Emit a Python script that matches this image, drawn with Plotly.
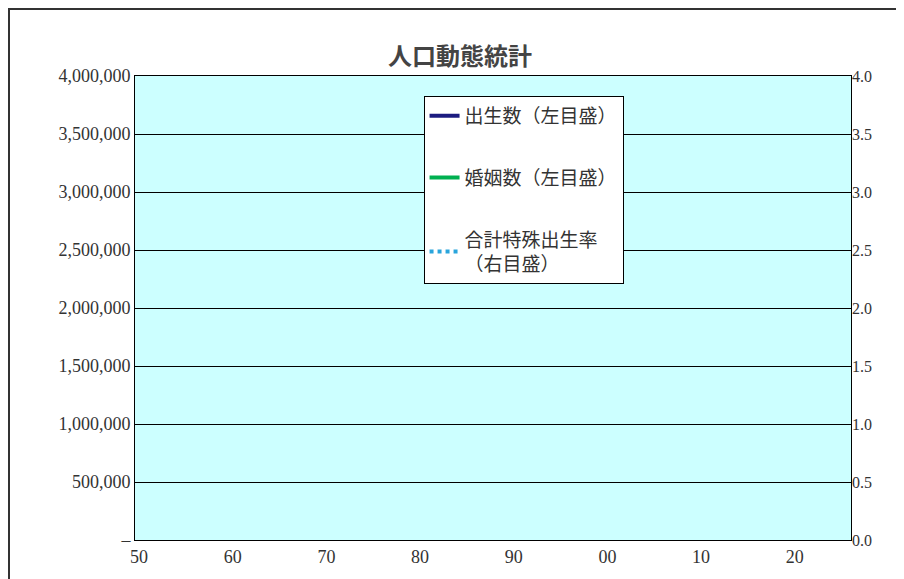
import plotly.graph_objects as go

# data (x position = calendar year + 3, as in the reference's labelling)
birth_years = list(range(1947, 2024))
births = [2679, 2682, 2697, 2338, 2138, 2005, 1868, 1770, 1731, 1665,
          1567, 1653, 1626, 1606, 1589, 1619, 1660, 1717, 1824, 1361,
          1936, 1872, 1890, 1934, 2001, 2039, 2092, 2030, 1901, 1833,
          1755, 1709, 1643, 1577, 1529, 1515, 1509, 1490, 1432, 1383,
          1347, 1314, 1247, 1222, 1223, 1209, 1188, 1238, 1187, 1207,
          1192, 1203, 1178, 1191, 1171, 1154, 1124, 1111, 1063, 1093,
          1090, 1091, 1070, 1071, 1051, 1037, 1030, 1004, 1006, 977,
          946, 918, 865, 841, 812, 771, 755]
marriages = [934, 954, 843, 715, 672, 677, 682, 698, 715, 716,
             774, 827, 848, 866, 891, 929, 938, 964, 955, 940,
             954, 957, 985, 1029, 1092, 1100, 1072, 1000, 942, 872,
             821, 794, 788, 775, 777, 781, 763, 740, 736, 711,
             696, 708, 708, 722, 742, 754, 793, 782, 792, 795,
             776, 785, 762, 798, 800, 757, 740, 720, 714, 731,
             720, 726, 708, 700, 662, 669, 661, 643, 635, 621,
             607, 586, 599, 526, 501, 519, 490]
tfr_years = list(range(1950, 2023))
tfr = [3.65, 3.26, 2.98, 2.69, 2.48, 2.37, 2.22, 2.04, 2.11, 2.04,
       2.00, 1.96, 1.98, 2.00, 2.05, 2.14, 1.58, 2.23, 2.13, 2.13,
       2.13, 2.16, 2.14, 2.14, 2.05, 1.91, 1.85, 1.80, 1.79, 1.77,
       1.75, 1.74, 1.77, 1.80, 1.81, 1.76, 1.72, 1.69, 1.66, 1.57,
       1.54, 1.53, 1.50, 1.46, 1.50, 1.42, 1.43, 1.39, 1.38, 1.34,
       1.36, 1.33, 1.32, 1.29, 1.29, 1.26, 1.32, 1.34, 1.37, 1.37,
       1.39, 1.39, 1.41, 1.43, 1.42, 1.45, 1.44, 1.43, 1.42, 1.36,
       1.33, 1.30, 1.26]
x_ticks = [50, 60, 70, 80, 90, 100, 110, 120]
x_labels = ["50", "60", "70", "80", "90", "00", "10", "20"]
y_ticks = [0, 500000, 1000000, 1500000, 2000000, 2500000, 3000000, 3500000, 4000000]
y_labels = ["–"] + [f"{v:,}" for v in y_ticks[1:]]

bx = [float(y + 3) for y in birth_years]
tx = [float(y + 3) for y in tfr_years]

fig = go.Figure()
fig.add_trace(go.Scatter(x=bx, y=[float(v * 1000) for v in births], mode="lines",
                         name="出生数（左目盛）", legendgroup="a",
                         xaxis="x", yaxis="y",
                         line=dict(color="#1C1C80", width=4)))
fig.add_trace(go.Scatter(x=bx, y=[float(v * 1000) for v in marriages], mode="lines",
                         name="婚姻数（左目盛）", legendgroup="b",
                         xaxis="x", yaxis="y",
                         line=dict(color="#00B050", width=4)))
fig.add_trace(go.Scatter(x=tx, y=tfr, mode="lines", xaxis="x", yaxis="y2",
                         name="合計特殊出生率<br>（右目盛）", legendgroup="c",
                         line=dict(color="#2AA5DC", width=4, dash="dot")))

tickfont = dict(family="Liberation Serif", size=18, color="#333333")
fig.update_layout(
    width=904, height=579,
    margin=dict(l=127, r=61, t=68, b=47, autoexpand=False),
    paper_bgcolor="white", plot_bgcolor="#CCFFFF",
    title=dict(text="<b>人口動態統計</b>", x=0.5, y=0.93, xanchor="center",
               font=dict(family="Noto Sans CJK JP", size=24, color="#444444")),
    font=dict(family="Noto Sans CJK JP", color="#333333"),
    xaxis=dict(range=[49.57, 126.0], tickvals=x_ticks, ticktext=x_labels,
               showgrid=False, zeroline=False, tickfont=tickfont, automargin=False,
               showline=True, linecolor="black", mirror=True),
    yaxis=dict(range=[0, 4000000], tickvals=y_ticks, ticktext=y_labels,
               gridcolor="black", gridwidth=1, zeroline=False, tickfont=tickfont,
               automargin=False, showline=True, linecolor="black", mirror=True),
    yaxis2=dict(range=[0, 4], overlaying="y", side="right", anchor="x",
                tickvals=[i / 2 for i in range(9)], automargin=False,
                tickformat=".1f", showgrid=False, zeroline=False,
                tickfont=dict(family="Liberation Serif", size=16, color="#333333")),
    legend=dict(x=0.403, y=0.957, xanchor="left", yanchor="top",
                bgcolor="white", bordercolor="black", borderwidth=1,
                tracegroupgap=34, font=dict(size=19, color="#333333")),
    shapes=[dict(type="rect", xref="paper", yref="paper", layer="below",
                 fillcolor="rgba(0,0,0,0)",
                 x0=-126 / 716, x1=1 + 60 / 716, y0=-46 / 464, y1=1 + 67 / 464,
                 line=dict(color="#333333", width=2))],
)

fig.write_html("out.html")
